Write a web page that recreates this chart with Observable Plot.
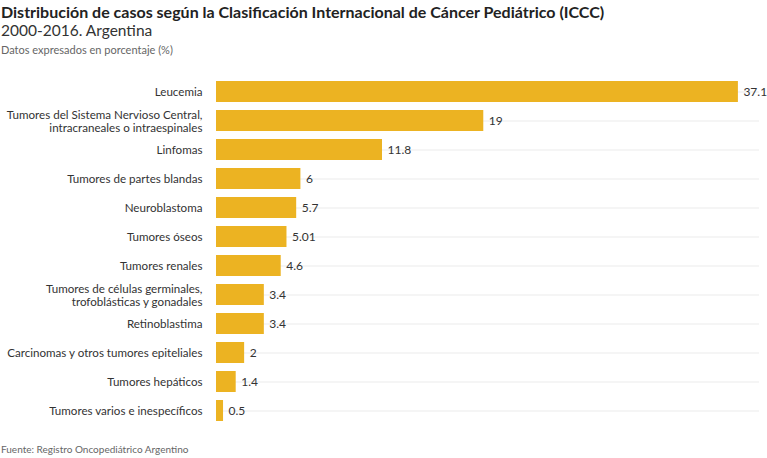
<!DOCTYPE html>
<html><head><meta charset="utf-8">
<script src="https://cdn.jsdelivr.net/npm/d3@7"></script>
<script src="https://cdn.jsdelivr.net/npm/@observablehq/plot@0.6"></script>
<style>
body{margin:0;background:#fff;font-family:Lato,"Noto Sans",sans-serif;color:#333;}
#wrap{width:767px;height:458px;position:relative;overflow:hidden;}
#title{position:absolute;left:1px;top:2px;font-size:16px;line-height:19px;font-weight:700;color:#222;white-space:nowrap;}
#subtitle{position:absolute;left:1px;top:21px;font-size:15.5px;line-height:18px;color:#333;}
#note{position:absolute;left:1px;top:43px;font-size:11px;line-height:14px;color:#666;}
#chart{position:absolute;left:0;top:70px;}
#source{position:absolute;left:1px;top:443px;font-size:10px;line-height:13px;color:#666;}
</style></head>
<body><div id="wrap">
<div id="title">Distribución de casos según la Clasificación Internacional de Cáncer Pediátrico (ICCC)</div>
<div id="subtitle">2000-2016. Argentina</div>
<div id="note">Datos expresados en porcentaje (%)</div>
<div id="chart"></div>
<div id="source">Fuente: Registro Oncopediátrico Argentino</div>
</div>
<script>
const categories = [
  "Leucemia",
  "Tumores del Sistema Nervioso Central,\nintracraneales o intraespinales",
  "Linfomas",
  "Tumores de partes blandas",
  "Neuroblastoma",
  "Tumores óseos",
  "Tumores renales",
  "Tumores de células germinales,\ntrofoblásticas y gonadales",
  "Retinoblastima",
  "Carcinomas y otros tumores epiteliales",
  "Tumores hepáticos",
  "Tumores varios e inespecíficos"
];
const values = [37.1, 19, 11.8, 6, 5.7, 5.01, 4.6, 3.4, 3.4, 2, 1.4, 0.5];
const valueLabels = ["37.1", "19", "11.8", "6", "5.7", "5.01", "4.6", "3.4", "3.4", "2", "1.4", "0.5"];

const data = categories.map((c, i) => ({name: c, value: values[i], label: valueLabels[i]}));

const chart = Plot.plot({
  width: 767,
  height: 372,
  marginLeft: 216,
  marginRight: 8,
  marginTop: 2.5,
  marginBottom: 12.5,
  style: {fontFamily: "Lato, 'Noto Sans', sans-serif", fontSize: "12px", color: "#333"},
  x: {domain: [0, 38.6], axis: null},
  y: {domain: categories, padding: 0.27, label: null, tickSize: 0, tickPadding: 14},
  marks: [
    Plot.ruleY(data, {y: "name", stroke: "#ebebeb", strokeWidth: 1}),
    Plot.barX(data, {x: "value", y: "name", fill: "#ecb322"}),
    Plot.text(data, {x: "value", y: "name", text: "label", textAnchor: "start", dx: 5, fill: "#333", fontSize: 12}),
    Plot.axisY({tickSize: 0, tickPadding: 14, label: null, fontSize: 11.6, lineHeight: 1.2, fill: "#333"})
  ]
});
document.getElementById("chart").appendChild(chart);
</script>
</body></html>
